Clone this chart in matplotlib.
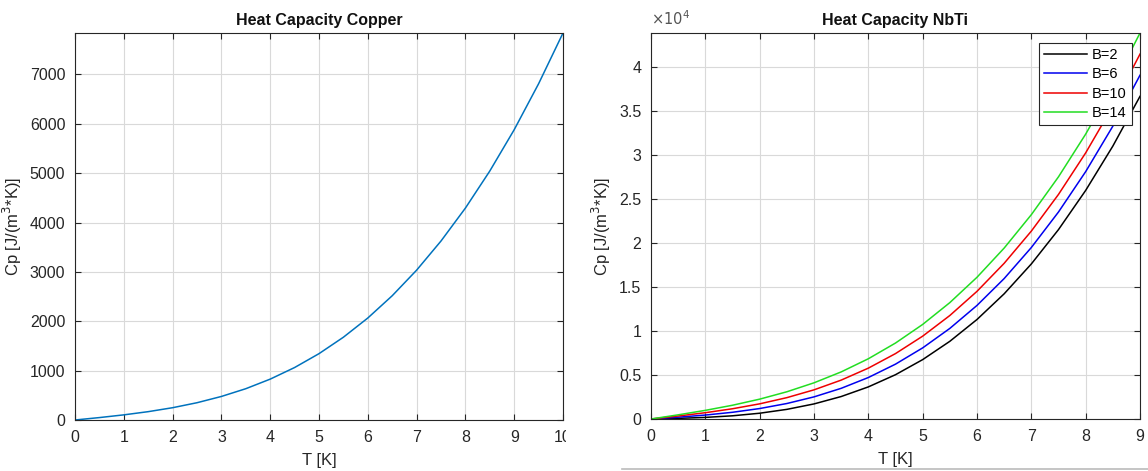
import numpy as np
import matplotlib
matplotlib.use("Agg")
import matplotlib.pyplot as plt
from matplotlib.ticker import FuncFormatter
from matplotlib.patches import Rectangle
from matplotlib.lines import Line2D

plt.rcParams['font.family'] = ['Liberation Sans', 'DejaVu Sans']

# Copper
T_cu = [0, 0.5, 1, 1.5, 2, 2.5, 3, 3.5, 4, 4.5, 5, 5.5, 6, 6.5, 7, 7.5, 8, 8.5, 9, 9.5, 10]
cp_cu = [0, 49, 104, 169, 249, 350, 477, 634, 828, 1063, 1344, 1677, 2066, 2517,
         3035, 3626, 4293, 5044, 5881, 6812, 7840]

# NbTi
T_nbti = [0, 0.5, 1, 1.5, 2, 2.5, 3, 3.5, 4, 4.5, 5, 5.5, 6, 6.5, 7, 7.5, 8, 8.5, 9]
cp_b2 = [0, 73, 182, 364, 657, 1095, 1715, 2555, 3651, 5038, 6755, 8837, 11319,
         14241, 17638, 21545, 26001, 31041, 36703]
cp_b6 = [0, 206, 449, 764, 1190, 1761, 2516, 3489, 4718, 6239, 8089, 10304, 12920,
         15975, 19505, 23547, 28136, 33309, 39104]
cp_b10 = [0, 340, 716, 1165, 1724, 2429, 3316, 4423, 5785, 7440, 9423, 11772, 14521,
          17710, 21373, 25548, 30270, 35577, 41505]
cp_b14 = [0, 473, 983, 1565, 2258, 3096, 4116, 5356, 6852, 8640, 10757, 13239, 16122,
          19444, 23241, 27549, 32404, 37844, 43906]
labels_b = ['B=2', 'B=6', 'B=10', 'B=14']
colors_b = ['black', '#0000ee', '#ee0000', '#22dd22']

W, H = 1148, 471
fig = plt.figure(figsize=(W / 100, H / 100), dpi=100)

ax1 = fig.add_axes([75 / W, 1 - 420 / H, 488 / W, 387 / H])
ax2 = fig.add_axes([651 / W, 1 - 419 / H, 489 / W, 386 / H])

txt = '#262626'


def matlab_style(ax):
    ax.grid(True, color='#d9d9d9', linewidth=0.8)
    ax.set_axisbelow(True)
    ax.tick_params(direction='in', length=4, width=0.8, colors=txt, labelsize=11.5,
                   top=True, right=True, pad=7)
    for sp in ax.spines.values():
        sp.set_color(txt)
        sp.set_linewidth(0.8)


# left panel
ax1.plot(T_cu, cp_cu, color='#0072BD', linewidth=1.1)
ax1.set_xlim(0, 10)
ax1.set_ylim(0, max(cp_cu))
ax1.set_xticks(range(0, 11))
ax1.set_yticks(range(0, 8000, 1000))
ax1.set_title('Heat Capacity Copper', fontsize=11.5, fontweight='bold', color='#111111', pad=6)
ax1.set_xlabel('T [K]', fontsize=12, color=txt, labelpad=6)
ax1.set_ylabel('Cp [J/(m$^3$*K)]', fontsize=12, color=txt)
matlab_style(ax1)

# right panel
for cp, lab, col in zip([cp_b2, cp_b6, cp_b10, cp_b14], labels_b, colors_b):
    ax2.plot(T_nbti, cp, color=col, linewidth=1.1, label=lab)
ax2.set_xlim(0, 9)
ax2.set_ylim(0, max(cp_b14))
ax2.set_xticks(range(0, 10))
ax2.set_yticks(np.arange(0, 40001, 5000))
ax2.yaxis.set_major_formatter(FuncFormatter(lambda v, p: '%g' % (v / 1e4)))
ax2.text(0.0, 1.012, r'$\times10^4$', transform=ax2.transAxes, fontsize=10.5, color='#555555',
         ha='left', va='bottom')
ax2.set_title('Heat Capacity NbTi', fontsize=11.5, fontweight='bold', color='#111111', pad=6)
ax2.set_xlabel('T [K]', fontsize=12, color=txt, labelpad=6)
ax2.set_ylabel('Cp [J/(m$^3$*K)]', fontsize=12, color=txt)
matlab_style(ax2)
leg = ax2.legend(loc='upper right', bbox_to_anchor=(0.983, 0.975), fontsize=10.5, frameon=True,
                 fancybox=False, edgecolor=txt, framealpha=1, handlelength=3.0,
                 borderpad=0.35, labelspacing=0.38, handletextpad=0.3, borderaxespad=0)
leg.get_frame().set_linewidth(0.8)

# gap between the two screenshots (cuts the last "10" label)
fig.patches.append(Rectangle((566 / W, 0), 24 / W, 1, transform=fig.transFigure,
                             facecolor='white', edgecolor='none', zorder=10))
fig.lines.append(Line2D([622 / W, 1], [2.5 / H, 2.5 / H], transform=fig.transFigure,
                        color='#bbbbbb', linewidth=1.2))

fig.savefig('out.png', dpi=100)
